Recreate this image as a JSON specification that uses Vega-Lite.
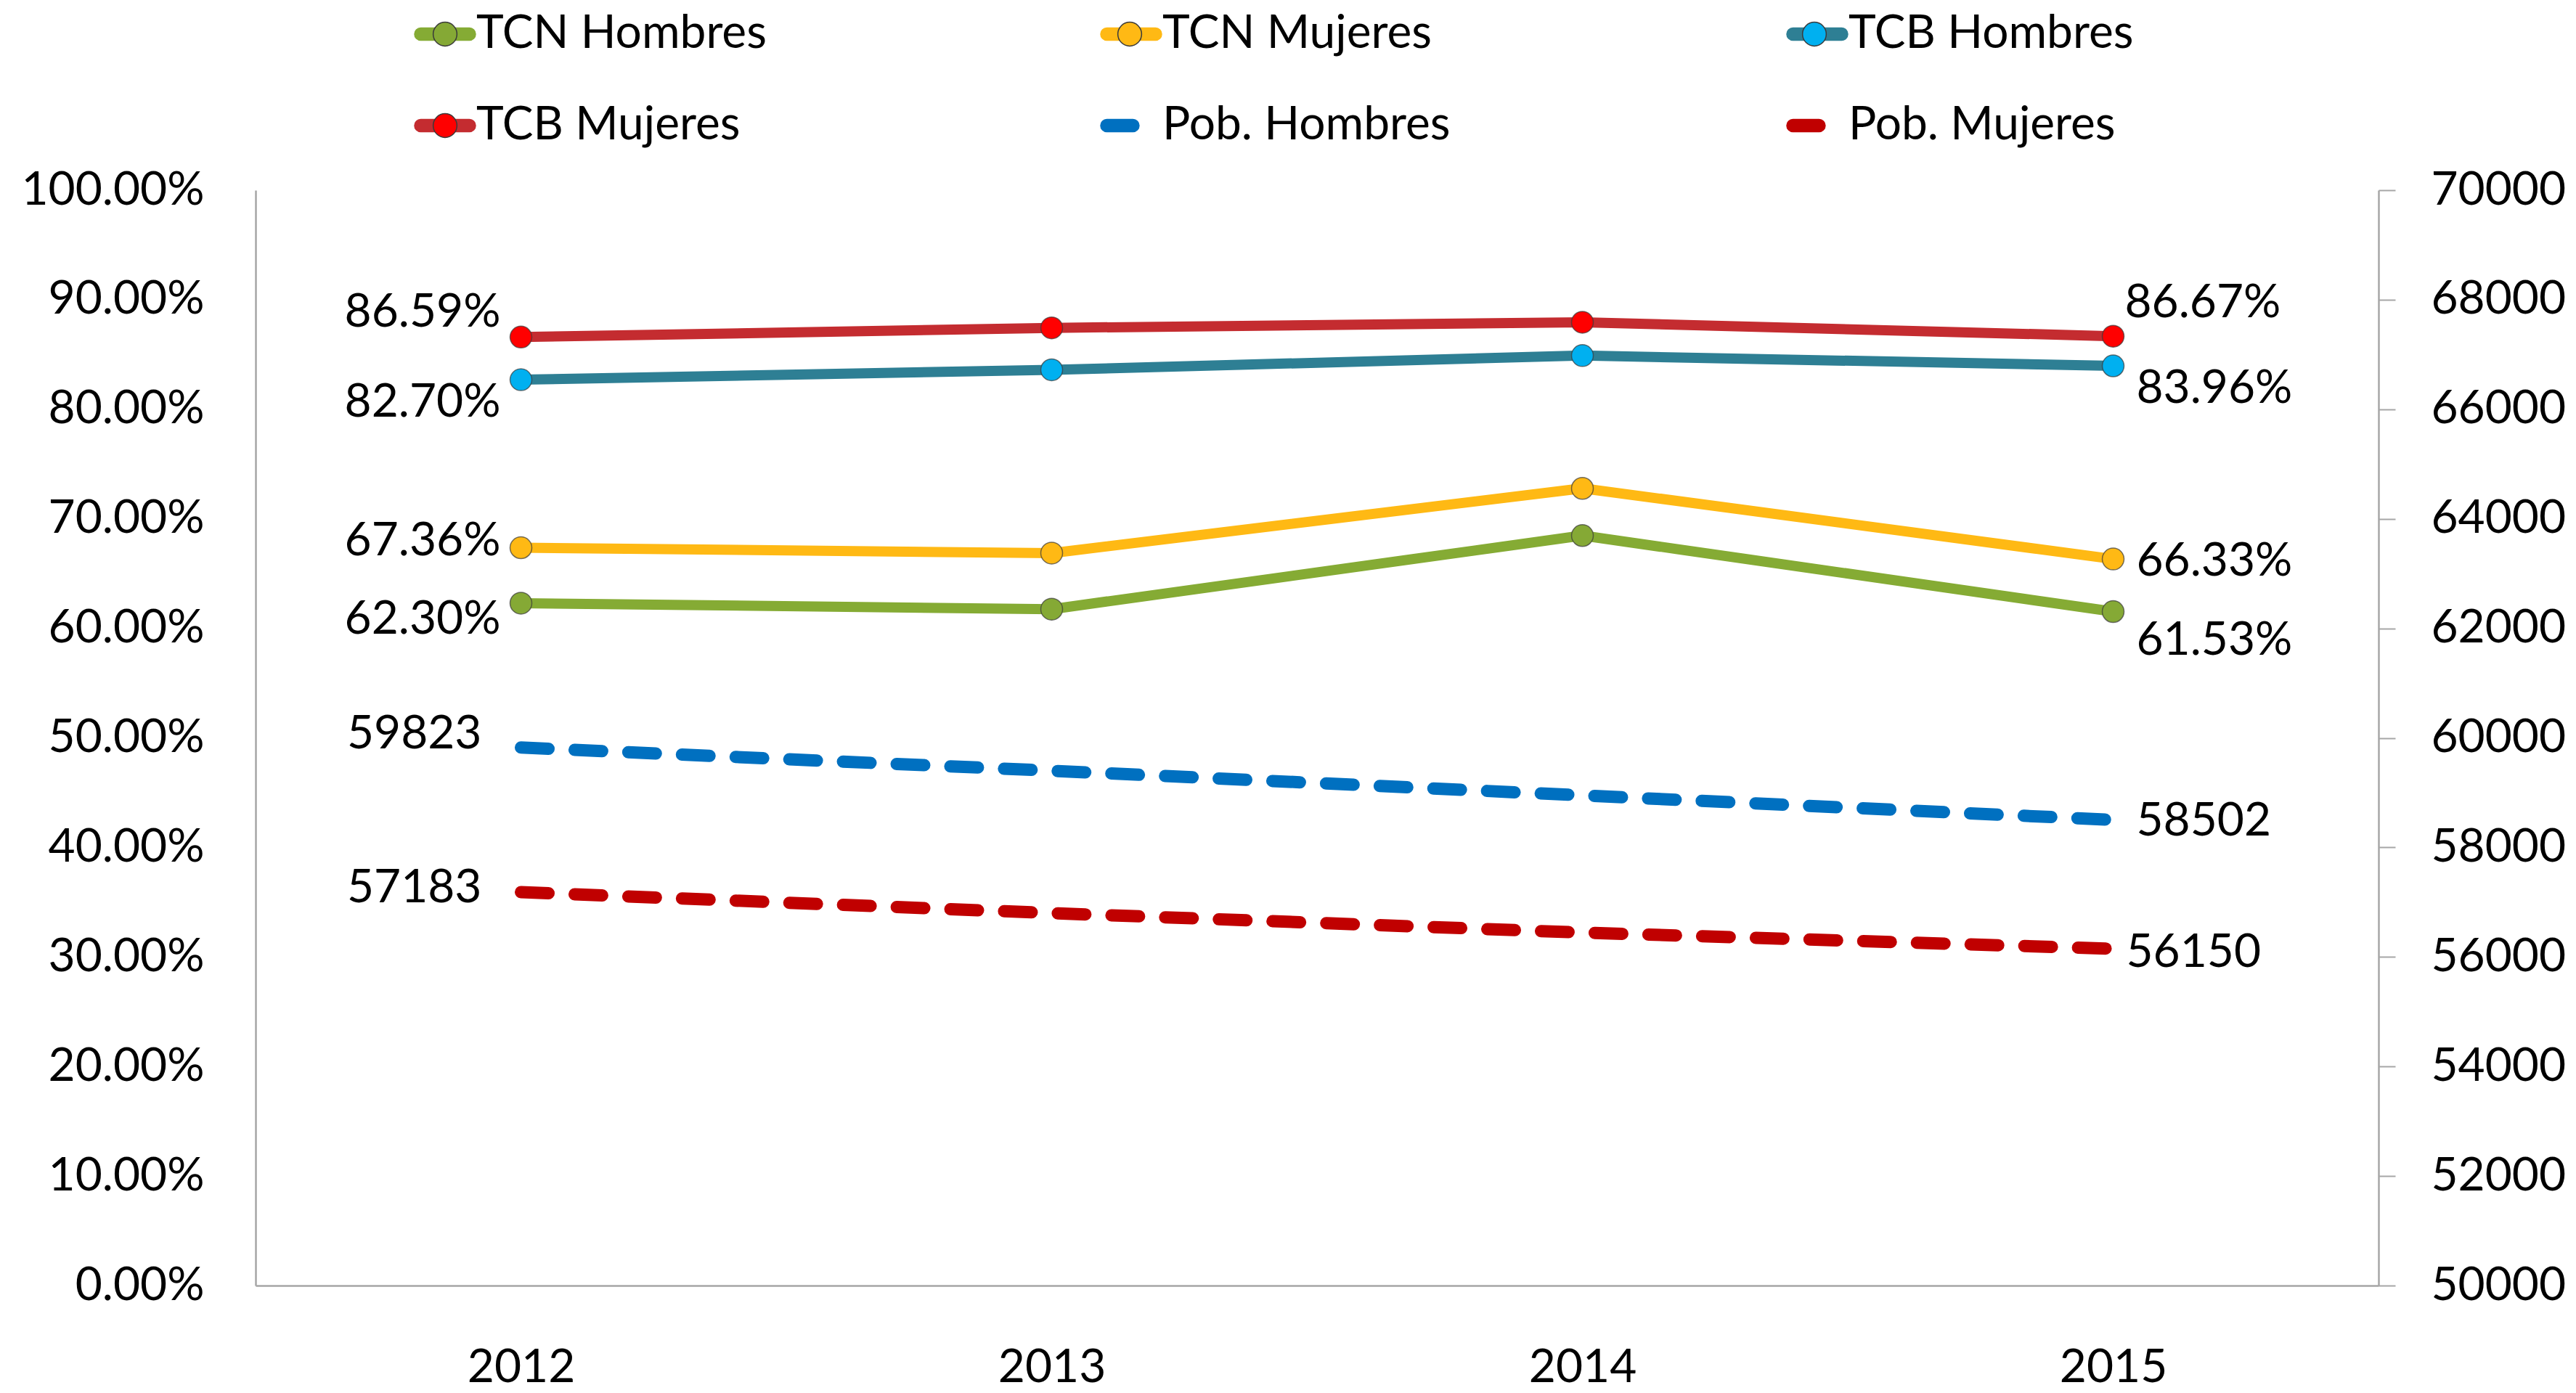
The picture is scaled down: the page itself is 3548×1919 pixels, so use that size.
{
  "$schema": "https://vega.github.io/schema/vega-lite/v6.json",
  "width": 2924,
  "height": 1509,
  "autosize": {"type": "none"},
  "padding": {"left": 352, "top": 262, "right": 272, "bottom": 148},
  "background": "white",
  "config": {
    "font": "Lato",
    "view": {"stroke": null},
    "axis": {"labelFont": "Lato", "labelFontSize": 64, "labelColor": "#000000", "labelLimit": 1000, "grid": false, "title": null, "domainColor": "#A6A6A6", "domainWidth": 2.5}
  },
  "datasets": {
    "tasas": [
      {"anio": "2012", "serie": "TCN Hombres", "tasa": 0.6230},
      {"anio": "2013", "serie": "TCN Hombres", "tasa": 0.6175},
      {"anio": "2014", "serie": "TCN Hombres", "tasa": 0.6847},
      {"anio": "2015", "serie": "TCN Hombres", "tasa": 0.6153},
      {"anio": "2012", "serie": "TCN Mujeres", "tasa": 0.6736},
      {"anio": "2013", "serie": "TCN Mujeres", "tasa": 0.6687},
      {"anio": "2014", "serie": "TCN Mujeres", "tasa": 0.7278},
      {"anio": "2015", "serie": "TCN Mujeres", "tasa": 0.6633},
      {"anio": "2012", "serie": "TCB Hombres", "tasa": 0.8270},
      {"anio": "2013", "serie": "TCB Hombres", "tasa": 0.8360},
      {"anio": "2014", "serie": "TCB Hombres", "tasa": 0.8490},
      {"anio": "2015", "serie": "TCB Hombres", "tasa": 0.8396},
      {"anio": "2012", "serie": "TCB Mujeres", "tasa": 0.8659},
      {"anio": "2013", "serie": "TCB Mujeres", "tasa": 0.8743},
      {"anio": "2014", "serie": "TCB Mujeres", "tasa": 0.8794},
      {"anio": "2015", "serie": "TCB Mujeres", "tasa": 0.8667}
    ],
    "pob": [
      {"anio": "2012", "serie": "Pob. Hombres", "pob": 59823},
      {"anio": "2013", "serie": "Pob. Hombres", "pob": 59400},
      {"anio": "2014", "serie": "Pob. Hombres", "pob": 58950},
      {"anio": "2015", "serie": "Pob. Hombres", "pob": 58502},
      {"anio": "2012", "serie": "Pob. Mujeres", "pob": 57183},
      {"anio": "2013", "serie": "Pob. Mujeres", "pob": 56800},
      {"anio": "2014", "serie": "Pob. Mujeres", "pob": 56445},
      {"anio": "2015", "serie": "Pob. Mujeres", "pob": 56150}
    ]
  },
  "encoding": {
    "x": {
      "field": "anio", "type": "ordinal",
      "scale": {"type": "point", "padding": 0.5},
      "axis": {"labelAngle": 0, "ticks": false, "labelPadding": 81, "labelBaseline": "top"}
    }
  },
  "layer": [
    {
      "data": {"name": "tasas"},
      "encoding": {
        "y": {
          "field": "tasa", "type": "quantitative",
          "scale": {"domain": [0, 1], "nice": false, "zero": false},
          "axis": {"orient": "left", "values": [0, 0.1, 0.2, 0.3, 0.4, 0.5, 0.6, 0.7, 0.8, 0.9, 1], "format": ".2%", "ticks": false, "labelPadding": 71}
        }
      },
      "layer": [
        {
          "mark": {"type": "line", "strokeWidth": 14, "strokeJoin": "round", "strokeCap": "round"},
          "encoding": {
            "color": {
              "field": "serie", "type": "nominal",
              "scale": {
                "domain": ["TCN Hombres", "TCN Mujeres", "TCB Hombres", "TCB Mujeres", "Pob. Hombres", "Pob. Mujeres"],
                "range": ["#85AB34", "#FFB914", "#2E7F94", "#C42C30", "#0070C0", "#C00000"]
              },
              "legend": {
                "title": null, "orient": "none", "legendX": 218, "legendY": -258,
                "direction": "horizontal", "columns": 3, "gridAlign": "all", "columnPadding": 457, "rowPadding": 51,
                "padding": 0, "zindex": 0,
                "symbolType": "M-0.8,-0.2H0.8A0.2,0.2,0,0,1,0.8,0.2H-0.8A0.2,0.2,0,0,1,-0.8,-0.2Z",
                "symbolSize": 7056, "symbolStrokeWidth": 1.5, "symbolOffset": 0,
                "labelFont": "Lato", "labelFontSize": 64, "labelColor": "#000000", "labelOffset": 0, "labelLimit": 1000,
                "encode": {
                  "symbols": {
                    "update": {
                      "shape": {"signal": "indexof(datum.label, 'Pob') === 0 ? 'M-0.8,-0.2H0.06A0.2,0.2,0,0,1,0.06,0.2H-0.8A0.2,0.2,0,0,1,-0.8,-0.2Z' : 'M-0.8,-0.2H0.8A0.2,0.2,0,0,1,0.8,0.2H-0.8A0.2,0.2,0,0,1,-0.8,-0.2Z'"},
                      "fill": {"scale": "color", "field": "value"},
                      "stroke": {"value": "transparent"},
                      "opacity": {"value": 1}
                    }
                  }
                }
              }
            }
          }
        },
        {
          "mark": {"type": "point", "shape": "circle", "filled": true, "size": 900, "stroke": "#3a3a3a", "strokeWidth": 1.5, "strokeOpacity": 0.7, "opacity": 1},
          "encoding": {
            "fill": {
              "field": "serie", "type": "nominal",
              "scale": {
                "domain": ["TCN Hombres", "TCN Mujeres", "TCB Hombres", "TCB Mujeres"],
                "range": ["#85A935", "#FFB914", "#00B0F0", "#FF0000"]
              },
              "legend": {
                "title": null, "orient": "none", "legendX": 218, "legendY": -258,
                "direction": "horizontal", "columns": 3, "gridAlign": "all", "columnPadding": 457, "rowPadding": 51,
                "padding": 0, "zindex": 1,
                "symbolType": "M-0.39,0A0.39,0.39,0,1,0,0.39,0A0.39,0.39,0,1,0,-0.39,0Z",
                "symbolSize": 7056, "symbolStrokeWidth": 1.5, "symbolOffset": 0,
                "labelFont": "Lato", "labelFontSize": 64, "labelColor": "#000000", "labelOpacity": 0, "labelOffset": 0, "labelLimit": 1000,
                "encode": {
                  "symbols": {
                    "update": {
                      "fill": {"scale": "fill", "field": "value"},
                      "stroke": {"value": "rgba(50,50,50,0.75)"},
                      "opacity": {"value": 1}
                    }
                  }
                }
              }
            }
          }
        },
        {
          "transform": [{"filter": "datum.serie === 'TCB Mujeres' && datum.anio === '2012'"}],
          "mark": {"type": "text", "align": "right", "baseline": "middle", "dx": -28, "dy": -33, "fontSize": 64, "font": "Lato", "color": "#000000"},
          "encoding": {"text": {"field": "tasa", "type": "quantitative", "format": ".2%"}}
        },
        {
          "transform": [{"filter": "datum.serie === 'TCB Hombres' && datum.anio === '2012'"}],
          "mark": {"type": "text", "align": "right", "baseline": "middle", "dx": -28, "dy": 32, "fontSize": 64, "font": "Lato", "color": "#000000"},
          "encoding": {"text": {"field": "tasa", "type": "quantitative", "format": ".2%"}}
        },
        {
          "transform": [{"filter": "datum.serie === 'TCN Mujeres' && datum.anio === '2012'"}],
          "mark": {"type": "text", "align": "right", "baseline": "middle", "dx": -28, "dy": -9, "fontSize": 64, "font": "Lato", "color": "#000000"},
          "encoding": {"text": {"field": "tasa", "type": "quantitative", "format": ".2%"}}
        },
        {
          "transform": [{"filter": "datum.serie === 'TCN Hombres' && datum.anio === '2012'"}],
          "mark": {"type": "text", "align": "right", "baseline": "middle", "dx": -28, "dy": 23, "fontSize": 64, "font": "Lato", "color": "#000000"},
          "encoding": {"text": {"field": "tasa", "type": "quantitative", "format": ".2%"}}
        },
        {
          "transform": [{"filter": "datum.serie === 'TCB Mujeres' && datum.anio === '2015'"}],
          "mark": {"type": "text", "align": "left", "baseline": "middle", "dx": 16, "dy": -45, "fontSize": 64, "font": "Lato", "color": "#000000"},
          "encoding": {"text": {"field": "tasa", "type": "quantitative", "format": ".2%"}}
        },
        {
          "transform": [{"filter": "datum.serie === 'TCB Hombres' && datum.anio === '2015'"}],
          "mark": {"type": "text", "align": "left", "baseline": "middle", "dx": 32, "dy": 32, "fontSize": 64, "font": "Lato", "color": "#000000"},
          "encoding": {"text": {"field": "tasa", "type": "quantitative", "format": ".2%"}}
        },
        {
          "transform": [{"filter": "datum.serie === 'TCN Mujeres' && datum.anio === '2015'"}],
          "mark": {"type": "text", "align": "left", "baseline": "middle", "dx": 32, "dy": 4, "fontSize": 64, "font": "Lato", "color": "#000000"},
          "encoding": {"text": {"field": "tasa", "type": "quantitative", "format": ".2%"}}
        },
        {
          "transform": [{"filter": "datum.serie === 'TCN Hombres' && datum.anio === '2015'"}],
          "mark": {"type": "text", "align": "left", "baseline": "middle", "dx": 32, "dy": 40, "fontSize": 64, "font": "Lato", "color": "#000000"},
          "encoding": {"text": {"field": "tasa", "type": "quantitative", "format": ".2%"}}
        }
      ]
    },
    {
      "data": {"name": "pob"},
      "encoding": {
        "y": {
          "field": "pob", "type": "quantitative",
          "scale": {"domain": [50000, 70000], "nice": false, "zero": false},
          "axis": {"orient": "right", "values": [50000, 52000, 54000, 56000, 58000, 60000, 62000, 64000, 66000, 68000, 70000], "format": "d", "ticks": true, "tickSize": 23, "tickColor": "#A6A6A6", "tickWidth": 2, "labelPadding": 49}
        }
      },
      "layer": [
        {
          "mark": {"type": "line", "strokeWidth": 17, "strokeDash": [38, 36], "strokeCap": "round"},
          "encoding": {"color": {"field": "serie", "type": "nominal"}}
        },
        {
          "transform": [{"filter": "datum.serie === 'Pob. Hombres' && datum.anio === '2012'"}],
          "mark": {"type": "text", "align": "right", "baseline": "middle", "dx": -54, "dy": -18, "fontSize": 64, "font": "Lato", "color": "#000000"},
          "encoding": {"text": {"field": "pob", "type": "quantitative", "format": "d"}}
        },
        {
          "transform": [{"filter": "datum.serie === 'Pob. Mujeres' && datum.anio === '2012'"}],
          "mark": {"type": "text", "align": "right", "baseline": "middle", "dx": -54, "dy": -5, "fontSize": 64, "font": "Lato", "color": "#000000"},
          "encoding": {"text": {"field": "pob", "type": "quantitative", "format": "d"}}
        },
        {
          "transform": [{"filter": "datum.serie === 'Pob. Hombres' && datum.anio === '2015'"}],
          "mark": {"type": "text", "align": "left", "baseline": "middle", "dx": 32, "dy": 2, "fontSize": 64, "font": "Lato", "color": "#000000"},
          "encoding": {"text": {"field": "pob", "type": "quantitative", "format": "d"}}
        },
        {
          "transform": [{"filter": "datum.serie === 'Pob. Mujeres' && datum.anio === '2015'"}],
          "mark": {"type": "text", "align": "left", "baseline": "middle", "dx": 18, "dy": 6, "fontSize": 64, "font": "Lato", "color": "#000000"},
          "encoding": {"text": {"field": "pob", "type": "quantitative", "format": "d"}}
        }
      ]
    }
  ],
  "resolve": {"scale": {"y": "independent"}}
}
